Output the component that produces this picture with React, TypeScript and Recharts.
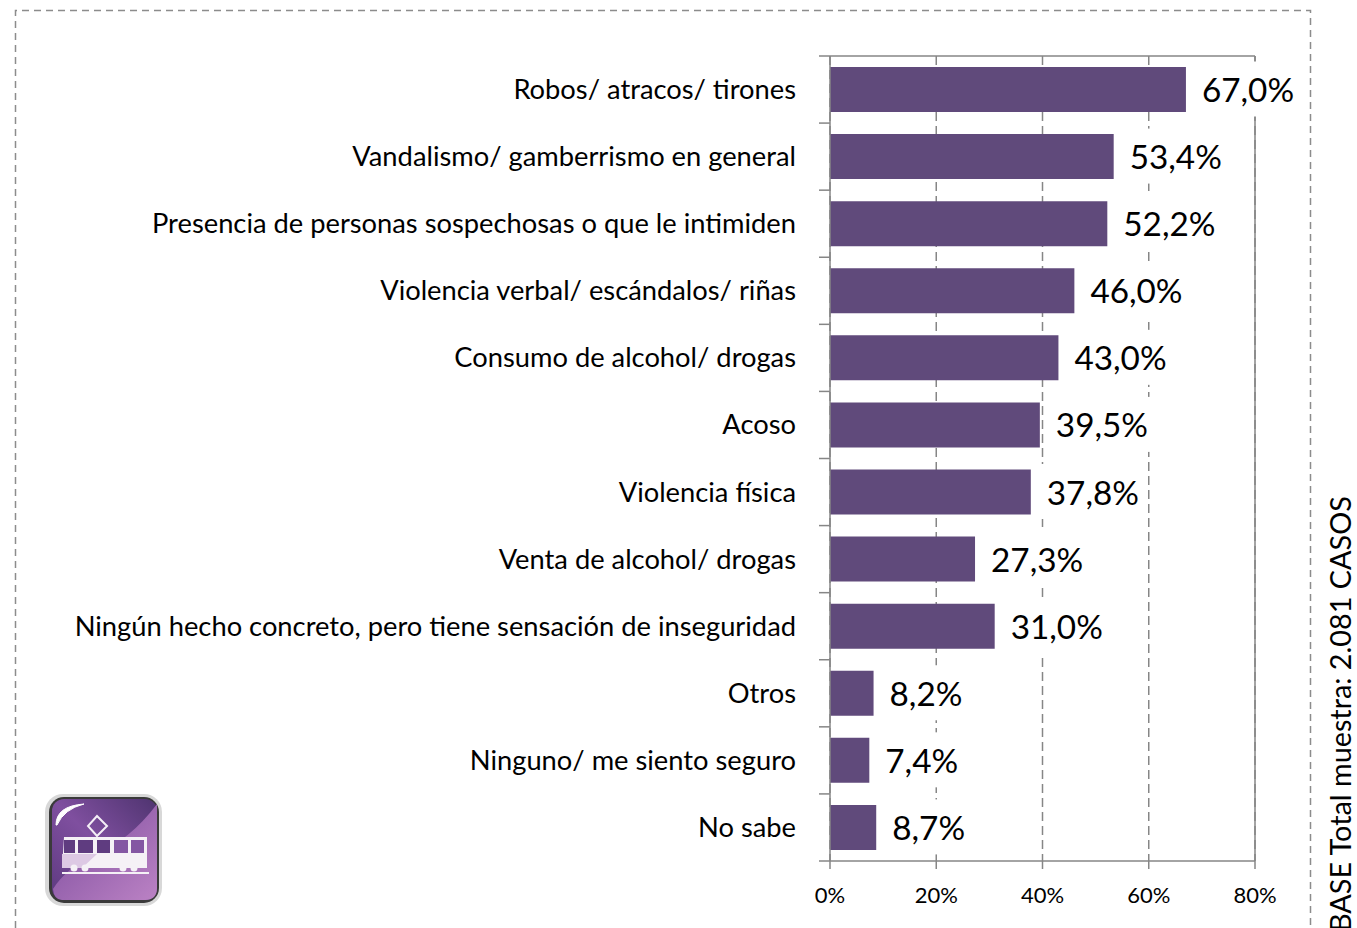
import React from "react";
import { BarChart, Bar, XAxis, YAxis, CartesianGrid, ReferenceLine, LabelList } from "recharts";

const categories = [
  "Robos/ atracos/ tirones",
  "Vandalismo/ gamberrismo en general",
  "Presencia de personas sospechosas o que le intimiden",
  "Violencia verbal/ escándalos/ riñas",
  "Consumo de alcohol/ drogas",
  "Acoso",
  "Violencia física",
  "Venta de alcohol/ drogas",
  "Ningún hecho concreto, pero tiene sensación de inseguridad",
  "Otros",
  "Ninguno/ me siento seguro",
  "No sabe",
];
const values = [67.0, 53.4, 52.2, 46.0, 43.0, 39.5, 37.8, 27.3, 31.0, 8.2, 7.4, 8.7];
const xTicks = [0, 20, 40, 60, 80];
const baseText = "BASE Total muestra: 2.081 CASOS";

const rows = categories.map((name, i) => ({ name, value: values[i] }));

const FONT = "Lato, 'Open Sans', sans-serif";
const AXIS = "#868686";
const BAR = "#604A7B";
const W = 1357;
const H = 928;
const XH = 67;
const M = { top: 56, right: 102, bottom: 0, left: 0 };
const YW = 830;
const PLOT_W = W - YW - M.right;
const BAND = (H - M.top - XH) / categories.length;

const CatTick = (props: any) => {
  const { x, y, payload, index } = props;
  const ax = x + 34;
  const top = y - BAND / 2;
  return (
    <g>
      <line x1={ax - 11} x2={ax} y1={top} y2={top} stroke={AXIS} strokeWidth={1.5} />
      {index === 0 && <line x1={ax} x2={ax + PLOT_W} y1={top} y2={top} stroke={AXIS} strokeWidth={1.5} />}
      {index === categories.length - 1 && (
        <line x1={ax - 11} x2={ax} y1={y + BAND / 2} y2={y + BAND / 2} stroke={AXIS} strokeWidth={1.5} />
      )}
      <text x={x} y={y} dy={9.5} textAnchor="end" fontFamily={FONT} fontSize={27.3} fill="#000">
        {payload.value}
      </text>
    </g>
  );
};

const ValueLabel = (props: any) => {
  const { x, y, width, height, value } = props;
  const end = x + width;
  const cy = y + height / 2;
  return (
    <g>
      <rect x={end + 6} y={cy - 28} width={110} height={55} fill="#fff" />
      <text x={end + 16} y={cy + 12.5} fontFamily={FONT} fontSize={33.3} fill="#000">
        {value.toFixed(1).replace(".", ",") + "%"}
      </text>
    </g>
  );
};

const Icon = () => (
  <g>
    <defs>
      <linearGradient id="ic1" x1="0" y1="1" x2="1" y2="0">
        <stop offset="0" stopColor="#5d3a80" />
        <stop offset="0.5" stopColor="#7f4f9f" />
        <stop offset="1" stopColor="#4f3470" />
      </linearGradient>
      <linearGradient id="ic2" x1="0" y1="0" x2="1" y2="1">
        <stop offset="0" stopColor="#7a4a9c" />
        <stop offset="1" stopColor="#bb82c4" />
      </linearGradient>
    </defs>
    <rect x={45} y={794} width={117} height={112} rx={18} fill="#d8d8d8" />
    <rect x={49} y={797} width={110} height={106} rx={15} fill="#3a3a3a" />
    <rect x={52} y={799} width={105} height={101} rx={12} fill="url(#ic1)" />
    <path d="M157 804 L157 888 Q157 900 145 900 L62 900 Q54 900 53 889 Q66 868 96 854 Q130 840 157 804 Z" fill="url(#ic2)" />
    <path d="M56 825 Q56 806 84 804 Q64 809 57 825 Z" fill="#fff" stroke="#fff" strokeWidth={1} />
    <path d="M97 816 L107 826 L97 836 L88 826 Z" fill="none" stroke="#f4eef6" strokeWidth={2} />
    <path d="M64 837 L147 837 L147 868 L62 868 Z" fill="#f5f1f6" />
    <path d="M62 854 L97 854 L82 868 L62 868 Z" fill="#ddc9e4" />
    {[[64, 11], [78, 15], [97, 13], [114, 14], [131, 13]].map(([x, w], i) => (
      <rect key={i} x={x} y={840} width={w} height={13} fill={i < 3 ? "#5f3c80" : "#8457a3"} />
    ))}
    {[74, 85, 123, 134].map((x, i) => (
      <circle key={i} cx={x} cy={868} r={3.5} fill="#f5f1f6" />
    ))}
    <rect x={62} y={872} width={87} height={2} fill="#f5f1f6" />
  </g>
);

export default function App() {
  return (
    <div style={{ position: "absolute", left: 0, top: 0, width: W, height: H, overflow: "hidden", background: "#fff" }}>
      <svg width={W} height={H} style={{ position: "absolute", left: 0, top: 0 }}>
        <path d="M15.5 940 L15.5 10.5 L1310.5 10.5 L1310.5 940" fill="none" stroke="#8c8c8c" strokeWidth={1.5} strokeDasharray="7 5" />
        <Icon />
      </svg>
      <div style={{ position: "absolute", left: 0, top: 0 }}>
        <BarChart width={W} height={H} data={rows} layout="vertical" margin={M} barSize={45}>
          <CartesianGrid horizontal={false} vertical stroke={AXIS} strokeWidth={1.5} strokeDasharray="9 5" />
          <ReferenceLine x={80} stroke={AXIS} strokeWidth={1.5} />
          <XAxis
            type="number"
            domain={[0, 80]}
            ticks={xTicks}
            tickFormatter={(v: number) => v + "%"}
            stroke={AXIS}
            strokeWidth={1.5}
            tickSize={8}
            tickMargin={18}
            interval={0}
            tick={{ fontFamily: FONT, fontSize: 22, fill: "#000" }}
            height={XH}
          />
          <YAxis
            type="category"
            dataKey="name"
            width={YW}
            interval={0}
            tickLine={false}
            tickSize={0}
            tickMargin={34}
            stroke={AXIS}
            strokeWidth={1.5}
            tick={<CatTick />}
          />
          <Bar dataKey="value" fill={BAR} isAnimationActive={false}>
            <LabelList dataKey="value" content={<ValueLabel />} />
          </Bar>
        </BarChart>
      </div>
      <svg width={W} height={H} style={{ position: "absolute", left: 0, top: 0, pointerEvents: "none" }}>
        <text transform="translate(1351 932) rotate(-90)" fontFamily={FONT} fontSize={28.8} fill="#000">
          {baseText}
        </text>
      </svg>
    </div>
  );
}
